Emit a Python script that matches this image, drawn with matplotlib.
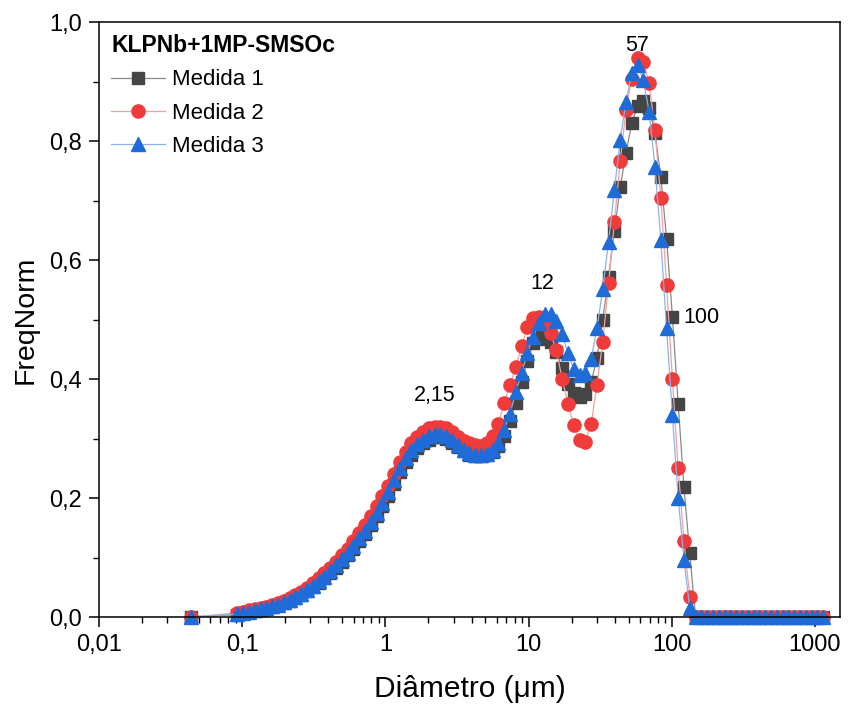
import matplotlib
matplotlib.use("Agg")
import matplotlib.pyplot as plt
from matplotlib.ticker import LogLocator, MultipleLocator, NullFormatter

plt.rcParams['font.family'] = ['Liberation Sans', 'DejaVu Sans']

# channel sizes (um) of the analyser, first point is the isolated 0.044 um bin
diametro = [
    0.0439,
    0.0926, 0.1017, 0.1116, 0.1225, 0.1345, 0.1476, 0.1621, 0.1779, 0.1953, 0.2144,
    0.2353, 0.2583, 0.2836, 0.3113, 0.3417, 0.3751, 0.4118, 0.4520, 0.4962, 0.5447,
    0.5979, 0.6564, 0.7205, 0.7909, 0.8685, 0.9535, 1.047, 1.149, 1.261, 1.385,
    1.520, 1.669, 1.832, 2.011, 2.208, 2.424, 2.661, 2.921, 3.206, 3.520,
    3.864, 4.241, 4.656, 5.111, 5.611, 6.159, 6.761, 7.422, 8.147, 8.944,
    9.818, 10.78, 11.83, 12.99, 14.26, 15.65, 17.18, 18.86, 20.71, 22.73,
    24.95, 27.39, 30.07, 33.01, 36.24, 39.78, 43.67, 47.94, 52.62, 57.77,
    63.41, 69.61, 76.42, 83.89, 92.09, 101.1, 111.0, 121.8, 133.7, 146.8,
    161.2, 176.9, 194.2, 213.2, 234.1, 256.9, 282.1, 309.6, 339.9, 373.1,
    409.6, 449.7, 493.6, 541.9, 594.9, 653.0, 716.9, 786.9, 863.9, 948.3,
    1041, 1143,
]

medida1 = [
    0.0,
    0.004, 0.006, 0.008, 0.010, 0.012, 0.014, 0.017, 0.020, 0.023, 0.027,
    0.032, 0.037, 0.043, 0.050, 0.057, 0.065, 0.074, 0.083, 0.093, 0.104,
    0.115, 0.127, 0.140, 0.154, 0.169, 0.186, 0.204, 0.223, 0.243, 0.260,
    0.273, 0.284, 0.292, 0.298, 0.302, 0.303, 0.299, 0.293, 0.286, 0.279,
    0.273, 0.270, 0.270, 0.272, 0.278, 0.288, 0.305, 0.330, 0.360, 0.395,
    0.430, 0.460, 0.470, 0.468, 0.462, 0.445, 0.418, 0.392, 0.376, 0.370,
    0.375, 0.395, 0.435, 0.500, 0.572, 0.649, 0.722, 0.780, 0.830, 0.859,
    0.868, 0.856, 0.813, 0.740, 0.636, 0.505, 0.358, 0.218, 0.107, 0.0,
    0.0, 0.0, 0.0, 0.0, 0.0, 0.0, 0.0, 0.0, 0.0, 0.0,
    0.0, 0.0, 0.0, 0.0, 0.0, 0.0, 0.0, 0.0, 0.0, 0.0,
    0.0, 0.0,
]

medida2 = [
    0.0,
    0.007, 0.009, 0.011, 0.013, 0.015, 0.017, 0.020, 0.023, 0.027, 0.032,
    0.037, 0.042, 0.049, 0.057, 0.065, 0.074, 0.083, 0.093, 0.104, 0.115,
    0.128, 0.141, 0.155, 0.170, 0.186, 0.203, 0.221, 0.241, 0.261, 0.278,
    0.292, 0.303, 0.311, 0.317, 0.320, 0.320, 0.317, 0.311, 0.303, 0.296,
    0.292, 0.289, 0.288, 0.293, 0.305, 0.325, 0.360, 0.390, 0.420, 0.455,
    0.488, 0.503, 0.505, 0.492, 0.477, 0.448, 0.400, 0.358, 0.322, 0.297,
    0.295, 0.325, 0.390, 0.463, 0.561, 0.664, 0.766, 0.852, 0.905, 0.939,
    0.932, 0.897, 0.818, 0.704, 0.558, 0.400, 0.250, 0.127, 0.034, 0.0,
    0.0, 0.0, 0.0, 0.0, 0.0, 0.0, 0.0, 0.0, 0.0, 0.0,
    0.0, 0.0, 0.0, 0.0, 0.0, 0.0, 0.0, 0.0, 0.0, 0.0,
    0.0, 0.0,
]

medida3 = [
    0.0,
    0.005, 0.007, 0.009, 0.011, 0.013, 0.015, 0.018, 0.021, 0.025, 0.029,
    0.034, 0.039, 0.045, 0.052, 0.060, 0.068, 0.077, 0.087, 0.097, 0.108,
    0.120, 0.132, 0.145, 0.159, 0.175, 0.192, 0.210, 0.230, 0.250, 0.267,
    0.280, 0.291, 0.298, 0.304, 0.308, 0.308, 0.304, 0.297, 0.289, 0.281,
    0.275, 0.272, 0.272, 0.274, 0.281, 0.293, 0.315, 0.342, 0.378, 0.410,
    0.444, 0.471, 0.494, 0.510, 0.509, 0.497, 0.475, 0.443, 0.417, 0.407,
    0.410, 0.434, 0.485, 0.552, 0.631, 0.718, 0.802, 0.866, 0.914, 0.928,
    0.902, 0.849, 0.757, 0.634, 0.485, 0.340, 0.200, 0.096, 0.015, 0.0,
    0.0, 0.0, 0.0, 0.0, 0.0, 0.0, 0.0, 0.0, 0.0, 0.0,
    0.0, 0.0, 0.0, 0.0, 0.0, 0.0, 0.0, 0.0, 0.0, 0.0,
    0.0, 0.0,
]

x_ticks = [0.01, 0.1, 1, 10, 100, 1000]
x_tick_labels = ["0,01", "0,1", "1", "10", "100", "1000"]
y_ticks = [0.0, 0.2, 0.4, 0.6, 0.8, 1.0]
y_tick_labels = ["0,0", "0,2", "0,4", "0,6", "0,8", "1,0"]

fig = plt.figure(figsize=(8.48, 7.13), dpi=100)
ax = fig.add_axes([0.1167, 0.1346, 0.874, 0.8345])

# (label, values, marker, marker colour, line colour, marker size)
series = [
    ("Medida 1", medida1, "s", "#454545", "#8a8a8a", 8.5),
    ("Medida 2", medida2, "o", "#F03B3B", "#F4A0A0", 9.5),
    ("Medida 3", medida3, "^", "#1F6CD8", "#8DB2EA", 10.0),
]
for label, ys, mk, mcol, lcol, ms in series:
    ax.plot(diametro, ys, color=lcol, lw=0.9, marker=mk, ms=ms,
            mfc=mcol, mec=mcol, label=label, clip_on=False)

ax.set_xscale("log")
ax.set_xlim(0.01, 1500)
ax.set_ylim(0, 1.0)
ax.set_xticks(x_ticks, labels=x_tick_labels)
ax.xaxis.set_minor_locator(LogLocator(base=10, subs=range(2, 10), numticks=20))
ax.xaxis.set_minor_formatter(NullFormatter())
ax.set_yticks(y_ticks, labels=y_tick_labels)
ax.yaxis.set_minor_locator(MultipleLocator(0.1))

ax.tick_params(which="major", direction="out", length=7, width=1.1,
               labelsize=17, top=False, right=False, pad=5)
ax.tick_params(which="minor", direction="out", length=4, width=1.0,
               top=False, right=False)
for sp in ax.spines.values():
    sp.set_linewidth(1.1)

ax.set_xlabel("Diâmetro (μm)", fontsize=21.5, labelpad=14)
ax.set_ylabel("FreqNorm", fontsize=20.5, labelpad=8)

# peak labels
ax.text(57, 0.961, "57", fontsize=15.5, ha="center", va="center")
ax.text(12.4, 0.561, "12", fontsize=15.5, ha="center", va="center")
ax.text(2.2, 0.373, "2,15", fontsize=15.5, ha="center", va="center")
ax.text(120, 0.503, "100", fontsize=15.5, ha="left", va="center")

leg = ax.legend(title="KLPNb+1MP-SMSOc", loc="upper left", frameon=False,
                fontsize=16, title_fontproperties={"weight": "bold", "size": 16.5},
                alignment="left", handlelength=2.4, handletextpad=0.35,
                labelspacing=0.55, borderaxespad=0.3, borderpad=0.25)

fig.savefig("out.png", dpi=100)
